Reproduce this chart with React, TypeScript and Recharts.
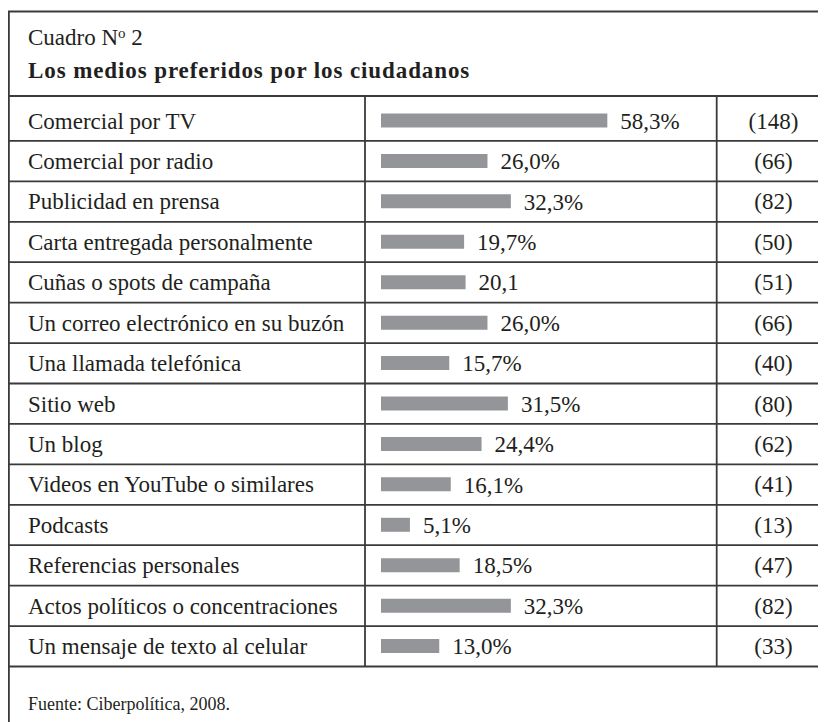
import React from 'react';
import { BarChart, Bar, XAxis, YAxis, LabelList } from 'recharts';

const categories = [
  'Comercial por TV',
  'Comercial por radio',
  'Publicidad en prensa',
  'Carta entregada personalmente',
  'Cuñas o spots de campaña',
  'Un correo electrónico en su buzón',
  'Una llamada telefónica',
  'Sitio web',
  'Un blog',
  'Videos en YouTube o similares',
  'Podcasts',
  'Referencias personales',
  'Actos políticos o concentraciones',
  'Un mensaje de texto al celular',
];

const percentages = [58.3, 26.0, 32.3, 19.7, 20.1, 26.0, 15.7, 31.5, 24.4, 16.1, 5.1, 18.5, 32.3, 13.0];

const percentLabels = [
  '58,3%', '26,0%', '32,3%', '19,7%', '20,1', '26,0%', '15,7%',
  '31,5%', '24,4%', '16,1%', '5,1%', '18,5%', '32,3%', '13,0%',
];

const counts = ['(148)', '(66)', '(82)', '(50)', '(51)', '(66)', '(40)', '(80)', '(62)', '(41)', '(13)', '(47)', '(82)', '(33)'];

const titleLine1 = 'Cuadro N';
const titleSup = 'o';
const titleNum = ' 2';
const titleLine2 = 'Los medios preferidos por los ciudadanos';
const sourceNote = 'Fuente: Ciberpolítica, 2008.';

// axis starts slightly below zero so every bar keeps a small stub, as in the original
const AXIS_MIN = -2.7;
const AXIS_MAX = 87;

const W = 818;
const H = 714;
const M_TOP = 92.5;
const M_BOTTOM = 55.5;
const ROW_H = (H - M_TOP - M_BOTTOM) / categories.length;

const FONT = "'Liberation Serif', 'Times New Roman', serif";
const INK = '#231f20';
const LINE = '#3a3a3a';
const BAR = '#939598';

const txt = (size: number, weight: string = 'normal') => ({
  fontFamily: FONT,
  fontSize: size,
  fontWeight: weight as any,
  fill: INK,
});

const data = categories.map((name, i) => ({
  name,
  pct: percentages[i],
  range: [AXIS_MIN, percentages[i]],
  label: percentLabels[i],
  count: counts[i],
}));

function RowTick(props: any) {
  const { y, index, payload } = props;
  const lineY = y + ROW_H / 2;
  return (
    <g>
      <text x={20} y={y} dy="0.34em" style={txt(23)} textAnchor="start">
        {payload.value}
      </text>
      <text x={765.5} y={y} dy="0.34em" style={txt(23)} textAnchor="middle">
        {counts[index]}
      </text>
      <line x1={0} x2={W} y1={lineY} y2={lineY} stroke={LINE} strokeWidth={1.8} />
    </g>
  );
}

function PctLabel(props: any) {
  const { x, y, width, height, value } = props;
  return (
    <text x={x + width + 13} y={y + height / 2} dy="0.36em" style={txt(23)} textAnchor="start">
      {value}
    </text>
  );
}

export default function App() {
  return (
    <div style={{ position: 'relative', width: W, height: H, fontFamily: FONT }}>
      <BarChart
        width={W}
        height={H}
        data={data}
        layout="vertical"
        margin={{ top: M_TOP, right: 112.2, bottom: M_BOTTOM, left: 0 }}
      >
        <XAxis type="number" domain={[AXIS_MIN, AXIS_MAX]} hide allowDataOverflow />
        <YAxis
          type="category"
          dataKey="name"
          width={373}
          axisLine={false}
          tickLine={false}
          interval={0}
          tick={<RowTick />}
        />
        <Bar dataKey="range" fill={BAR} barSize={14} isAnimationActive={false}>
          <LabelList dataKey="label" content={<PctLabel />} />
        </Bar>
      </BarChart>
      <svg
        width={W}
        height={H}
        style={{ position: 'absolute', left: 0, top: 0, pointerEvents: 'none' }}
      >
        <line x1={0} x2={W} y1={3.5} y2={3.5} stroke={LINE} strokeWidth={1.8} />
        <line x1={0.9} x2={0.9} y1={3} y2={H} stroke={LINE} strokeWidth={1.8} />
        <line x1={0} x2={W} y1={88} y2={88} stroke={LINE} strokeWidth={1.8} />
        <line x1={357} x2={357} y1={88} y2={M_TOP + ROW_H * categories.length} stroke={LINE} strokeWidth={1.8} />
        <line x1={708.7} x2={708.7} y1={88} y2={M_TOP + ROW_H * categories.length} stroke={LINE} strokeWidth={1.8} />
        <text x={20} y={37} style={txt(23)}>
          {titleLine1}
          <tspan style={{ fontSize: 15 }} dy={-7}>{titleSup}</tspan>
          <tspan dy={7}>{titleNum}</tspan>
        </text>
        <text x={20} y={70} style={{ ...txt(23, 'bold'), letterSpacing: 0.9 }}>
          {titleLine2}
        </text>
        <text x={20} y={702} style={txt(18)}>
          {sourceNote}
        </text>
      </svg>
    </div>
  );
}
